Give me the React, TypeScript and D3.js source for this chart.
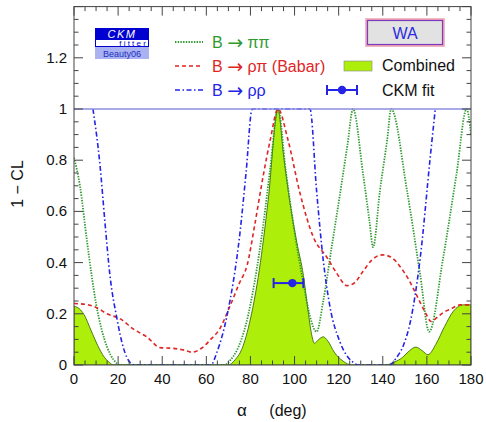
import React from 'react';
import * as d3 from 'd3';

// alpha (deg) -> 1 - CL
const piPi: [number, number][] = [
  [0, 0.81], [2.7, 0.7], [5.8, 0.49], [8, 0.35], [10, 0.24], [12.5, 0.14], [15, 0.07], [18, 0.02], [21, 0],
  [68, 0], [71, 0.02], [74, 0.06], [78, 0.16], [82, 0.33], [86, 0.56], [89, 0.77], [92.5, 1],
  [96, 0.76], [100, 0.52], [104, 0.32], [107, 0.19], [110, 0.13], [113, 0.25], [117, 0.47], [121, 0.69],
  [124, 0.86], [126.5, 1], [131, 0.75], [134, 0.56], [135.6, 0.46], [138.7, 0.68], [142, 0.88], [143.8, 1],
  [151, 0.68], [157, 0.35], [161, 0.13], [167.4, 0.42], [173.5, 0.75], [178, 1], [180, 0.9],
];

const rhoPi: [number, number][] = [
  [0, 0.24], [5, 0.237], [10, 0.225], [15, 0.2], [21, 0.18], [27, 0.14], [33, 0.11], [39, 0.068],
  [45, 0.065], [50, 0.058], [53.5, 0.05], [58.5, 0.07], [62, 0.1], [66, 0.14], [70.7, 0.23], [75, 0.32],
  [78.5, 0.39], [82, 0.55], [85.8, 0.74], [89, 0.88], [92.5, 1], [97, 0.88], [102.5, 0.67], [108.5, 0.5],
  [114.7, 0.42], [119, 0.36], [123.8, 0.31], [127, 0.32], [131, 0.365], [135, 0.41], [140, 0.43],
  [144, 0.42], [147.8, 0.385], [152, 0.33], [155.5, 0.27], [159, 0.21], [162, 0.17], [164.5, 0.185],
  [167.4, 0.205], [171, 0.22], [175, 0.235], [180, 0.235],
];

const rhoRho: [number, number][] = [
  [8.6, 1], [11.8, 0.78], [14, 0.56], [16.3, 0.35], [19.5, 0.18], [22.3, 0.07], [25.4, 0.01], [27.5, 0],
  [62, 0], [64.8, 0.05], [69.3, 0.19], [75.3, 0.52], [78, 0.75], [80.8, 1], [107, 1], [110, 0.68],
  [113, 0.41], [116, 0.23], [120.6, 0.09], [126.6, 0.01], [129, 0], [143, 0], [146.3, 0.03],
  [149.5, 0.08], [152.4, 0.165], [157, 0.42], [161.5, 0.81], [163.8, 1],
];

const combined: [number, number][] = [
  [0, 0.23], [3, 0.215], [5, 0.19], [7, 0.15], [10, 0.09], [13, 0.04], [16, 0.01], [18, 0],
  [70, 0], [73, 0.02], [76, 0.06], [80, 0.18], [84, 0.37], [88, 0.64], [92.5, 1],
  [95, 0.82], [98, 0.63], [101, 0.48], [104, 0.35], [106, 0.22], [107.5, 0.13], [109, 0.085],
  [111, 0.1], [113, 0.11], [115, 0.095], [118, 0.05], [122, 0.015], [126, 0], [141, 0], [145, 0.01],
  [149, 0.03], [152, 0.055], [155, 0.07], [158, 0.055], [160.5, 0.04], [164, 0.08], [168, 0.15],
  [172, 0.21], [176.5, 0.235], [180, 0.235],
];

const ckmFit = { alpha: 99, lo: 90.5, hi: 104, level: 0.32 };

const xTicks = [0, 20, 40, 60, 80, 100, 120, 140, 160, 180];
const yTicks = [0, 0.2, 0.4, 0.6, 0.8, 1, 1.2];

const FONT = '"Liberation Sans", Arial, Helvetica, sans-serif';
const GREEN = '#2f9a2f';
const RED = '#e02525';
const BLUE = '#2424e6';

const Arrow = () => (
  <tspan fontFamily="DejaVu Sans" fontSize={19} dy={0.5}>→</tspan>
);

const App = () => {
  const width = 486;
  const height = 422;
  const m = { left: 74, right: 471, top: 6.6, bottom: 365 };

  const x = d3.scaleLinear().domain([0, 180]).range([m.left, m.right]);
  const y = d3.scaleLinear().domain([0, 1.4]).range([m.bottom, m.top]);

  const line = d3.line<[number, number]>()
    .x(d => x(d[0]))
    .y(d => y(d[1]))
    .curve(d3.curveMonotoneX);

  const area = d3.area<[number, number]>()
    .x(d => x(d[0]))
    .y0(y(0))
    .y1(d => y(d[1]))
    .curve(d3.curveMonotoneX);

  const xMinor = d3.range(0, 181, 5);
  const yMinor = d3.range(0, 1.401, 0.05);

  return (
    <div style={{ position: 'absolute', left: 0, top: 0 }}>
      <svg width={width} height={height} style={{ display: 'block', background: '#fff' }} fontFamily={FONT}>
        <defs>
          <clipPath id="plot">
            <rect x={m.left} y={m.top} width={m.right - m.left} height={m.bottom - m.top} />
          </clipPath>
        </defs>

        <g clipPath="url(#plot)">
          <path d={area(combined) || ''} fill="#adee0a" stroke="#4d7a12" strokeWidth={1} />
          <path d={line(piPi) || ''} fill="none" stroke={GREEN} strokeWidth={1.8} strokeDasharray="1.4 1.3" />
          <path d={line(rhoPi) || ''} fill="none" stroke={RED} strokeWidth={1.6} strokeDasharray="4 3" />
          <path d={line(rhoRho) || ''} fill="none" stroke={BLUE} strokeWidth={1.6} strokeDasharray="5 2.5 1.5 2.5" />
          <line x1={m.left} x2={m.right} y1={y(1)} y2={y(1)} stroke="#8c8ce0" strokeWidth={1.5} />
        </g>

        {/* CKM fit point */}
        <g stroke={BLUE} strokeWidth={2}>
          <line x1={x(ckmFit.lo)} x2={x(ckmFit.hi)} y1={y(ckmFit.level)} y2={y(ckmFit.level)} />
          <line x1={x(ckmFit.lo)} x2={x(ckmFit.lo)} y1={y(ckmFit.level) - 5} y2={y(ckmFit.level) + 5} />
          <line x1={x(ckmFit.hi)} x2={x(ckmFit.hi)} y1={y(ckmFit.level) - 5} y2={y(ckmFit.level) + 5} />
        </g>
        <circle cx={x(ckmFit.alpha)} cy={y(ckmFit.level)} r={4.2} fill={BLUE} />

        {/* frame and ticks */}
        <rect x={m.left} y={m.top} width={m.right - m.left} height={m.bottom - m.top} fill="none" stroke="#444" strokeWidth={1} />
        <g stroke="#444" strokeWidth={1}>
          {xMinor.map(v => {
            const len = v % 20 === 0 ? 9 : 4.5;
            return (
              <g key={'xt' + v}>
                <line x1={x(v)} x2={x(v)} y1={m.bottom} y2={m.bottom - len} />
                <line x1={x(v)} x2={x(v)} y1={m.top} y2={m.top + len} />
              </g>
            );
          })}
          {yMinor.map((v, i) => {
            const len = i % 4 === 0 ? 9 : 4.5;
            return (
              <g key={'yt' + i}>
                <line x1={m.left} x2={m.left + len} y1={y(v)} y2={y(v)} />
                <line x1={m.right} x2={m.right - len} y1={y(v)} y2={y(v)} />
              </g>
            );
          })}
        </g>

        {xTicks.map(v => (
          <text key={'xl' + v} x={x(v)} y={384} textAnchor="middle" fontSize={15} fill="#111">{v}</text>
        ))}
        {yTicks.map(v => (
          <text key={'yl' + v} x={67} y={y(v) + 5} textAnchor="end" fontSize={15} fill="#111">{d3.format('~g')(v)}</text>
        ))}

        <text transform="translate(23,184) rotate(-90)" textAnchor="middle" fontSize={16} fill="#111">1 − CL</text>
        <text x={242} y={416} textAnchor="middle" fontSize={17} fill="#111">α</text>
        <text x={288} y={416} textAnchor="middle" fontSize={16} fill="#111">(deg)</text>

        {/* CKMfitter logo */}
        <rect x={95} y={28} width={54} height={11} fill="#0000d0" />
        <text x={122} y={37.5} textAnchor="middle" fontSize={11} fontStyle="italic" fill="#fff" letterSpacing={1.5}>CKM</text>
        <rect x={95.5} y={39.5} width={53} height={7} fill="#fff" stroke="#0000d0" strokeWidth={1} />
        <text x={148} y={46} textAnchor="end" fontSize={8} fill="#0000d0" letterSpacing={2.2}>fitter</text>
        <rect x={95} y={47} width={54} height={12} fill="#aab2f2" />
        <text x={122} y={56.5} textAnchor="middle" fontSize={9} fill="#2030c0">Beauty06</text>

        {/* legend */}
        <line x1={175} x2={203} y1={42} y2={42} stroke={GREEN} strokeWidth={1.8} strokeDasharray="1.4 1.3" />
        <text x={212} y={48} fontSize={16} fill={GREEN}>B <Arrow /><tspan dy={-0.5}> ππ</tspan></text>
        <line x1={175} x2={203} y1={66} y2={66} stroke={RED} strokeWidth={1.6} strokeDasharray="4 3" />
        <text x={212} y={72} fontSize={16} fill={RED}>B <Arrow /><tspan dy={-0.5}> ρπ (Babar)</tspan></text>
        <line x1={175} x2={203} y1={90} y2={90} stroke={BLUE} strokeWidth={1.6} strokeDasharray="5 2.5 1.5 2.5" />
        <text x={212} y={96} fontSize={16} fill={BLUE}>B <Arrow /><tspan dy={-0.5}> ρρ</tspan></text>

        <rect x={344} y={61} width={28} height={10} fill="#adee0a" stroke="#888" strokeWidth={0.6} />
        <text x={382} y={71} fontSize={16} fill="#111">Combined</text>
        <g stroke={BLUE} strokeWidth={2}>
          <line x1={327} x2={357} y1={90} y2={90} />
          <line x1={327} x2={327} y1={85} y2={95} />
          <line x1={357} x2={357} y1={85} y2={95} />
        </g>
        <circle cx={342} cy={90} r={4.2} fill={BLUE} />
        <text x={382} y={96} fontSize={16} fill="#111">CKM fit</text>

        {/* WA box */}
        <rect x={366.5} y={19.5} width={77} height={26} fill="#e2e2e2" stroke="#f0a0b0" strokeWidth={2.5} />
        <rect x={367.5} y={20.5} width={75} height={24} fill="none" stroke="#7a3cc0" strokeWidth={1.2} />
        <text x={405} y={39} textAnchor="middle" fontSize={16} fill="#2a2ae0">WA</text>
      </svg>
    </div>
  );
};

export default App;
